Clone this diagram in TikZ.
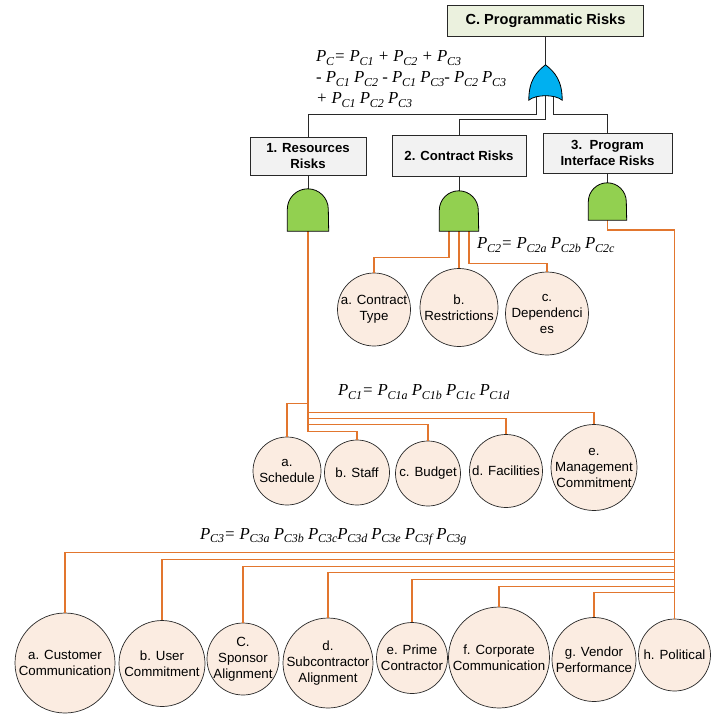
\documentclass[tikz,border=0pt]{standalone}
\usepackage{fontspec}
\setmainfont{Liberation Sans}
\newfontfamily\fmlfont{Liberation Serif}
\definecolor{peach}{RGB}{251,236,225}
\definecolor{orl}{RGB}{226,118,46}
\definecolor{boxg}{RGB}{242,242,242}
\definecolor{titleg}{RGB}{235,241,222}
\definecolor{orblue}{RGB}{0,176,240}
\definecolor{andgreen}{RGB}{146,208,80}
\definecolor{ln}{RGB}{40,40,40}
\newcommand\Pq[1]{P\kern-0.3pt\raisebox{-3.4pt}{\fontsize{12}{12}\selectfont#1}}
\newcommand\andshape[2]{\path[andg] (#1.south west) -- ([yshift=-#2pt]#1.north west) arc[start angle=180,end angle=360,radius=#2] -- (#1.south east) -- cycle;}
\begin{document}
\begin{tikzpicture}[x=1pt,y=-1pt,
  box/.style={draw=ln, line width=0.8pt, fill=boxg, font=\bfseries\fontsize{13.2}{16}\selectfont, align=center, inner sep=0pt},
  titlebox/.style={box, fill=titleg, font=\bfseries\fontsize{14.6}{17}\selectfont},
  circ/.style={circle, draw=ln, line width=0.7pt, fill=peach, inner sep=0pt},
  ctext/.style={align=center, font=\fontsize{13.3}{16}\selectfont, inner sep=0pt},
  oline/.style={draw=orl, line width=1.3pt},
  trunk/.style={draw=orl, line width=1.8pt},
  bline/.style={draw=ln, line width=0.8pt},
  gatebox/.style={draw=none, inner sep=0pt},
  andg/.style={draw=black, line width=0.8pt, fill=andgreen},
  org/.style={draw=black, line width=0.8pt, fill=orblue},
  fml/.style={font=\fmlfont\itshape\fontsize{16.8}{21}\selectfont, inner sep=0pt, anchor=west, align=left}]
\useasboundingbox (0,0) rectangle (720,713);

% boxes
\node[titlebox, minimum width=196pt, minimum height=31pt] (top) at (545.5,20.5) {C. Programmatic Risks};
\node[box, minimum width=116pt, minimum height=38pt] (b1) at (308,156) {1. Resources\\Risks};
\node[box, minimum width=134pt, minimum height=41pt] (b2) at (459,155.5) {2. Contract Risks};
\node[box, minimum width=129pt, minimum height=40pt] (b3) at (607.5,153) {3.\ \ Program\\Interface Risks};

% gates (placeholders)
\node[gatebox, minimum width=33pt, minimum height=35pt] (org) at (545.5,82.5) {};
\node[gatebox, minimum width=41pt, minimum height=42pt] (g1) at (308,210) {};
\node[gatebox, minimum width=39pt, minimum height=40pt] (g2) at (459,211) {};
\node[gatebox, minimum width=38pt, minimum height=37pt] (g3) at (607.5,201.5) {};

% formulas
\node[fml] (fC) at (316,79) {\Pq{C}= \Pq{C1} + \Pq{C2} + \Pq{C3}\\- \Pq{C1} \Pq{C2} - \Pq{C1} \Pq{C3}- \Pq{C2} \Pq{C3}\\+ \Pq{C1} \Pq{C2} \Pq{C3}};
\node[fml] (fC2) at (477,245) {\Pq{C2}= \Pq{C2a} \Pq{C2b} \Pq{C2c}};
\node[fml] (fC1) at (338,392) {\Pq{C1}= \Pq{C1a} \Pq{C1b} \Pq{C1c} \Pq{C1d}};
\node[fml] (fC3) at (200,537) {\Pq{C3}= \Pq{C3a} \Pq{C3b} \Pq{C3c}\Pq{C3d} \Pq{C3e} \Pq{C3f} \Pq{C3g}};

% group 2 circles
\node[circ, minimum size=73pt] (c2a) at (374,309.5) {};
\node[circ, minimum size=78pt] (c2b) at (459,307.5) {};
\node[circ, minimum size=83pt] (c2c) at (547,313.5) {};
\node[ctext] (c2a-t) at (c2a) {a. Contract\\Type};
\node[ctext] (c2b-t) at (c2b) {b.\\Restrictions};
\node[ctext] (c2c-t) at (c2c) {c.\\Dependenci\\es};

% group 1 circles
\node[circ, minimum size=68pt] (c1a) at (287,471) {};
\node[circ, minimum size=65pt] (c1b) at (357,472.5) {};
\node[circ, minimum size=65pt] (c1c) at (428,473.5) {};
\node[circ, minimum size=73pt] (c1d) at (506,471) {};
\node[circ, minimum size=86pt] (c1e) at (594,467.5) {};
\node[ctext] (c1a-t) at (c1a) {a.\\Schedule};
\node[ctext] (c1b-t) at (c1b) {b. Staff};
\node[ctext] (c1c-t) at (c1c) {c. Budget};
\node[ctext] (c1d-t) at (c1d) {d. Facilities};
\node[ctext] (c1e-t) at (c1e) {e.\\Management\\Commitment};

% group 3 circles
\node[circ, minimum size=100pt] (c3a) at (65,663) {};
\node[circ, minimum size=86pt] (c3b) at (162,663.5) {};
\node[circ, minimum size=72pt] (c3c) at (243,659) {};
\node[circ, minimum size=90pt] (c3d) at (328,663) {};
\node[circ, minimum size=71pt] (c3e) at (412,658) {};
\node[circ, minimum size=101pt] (c3f) at (499,657.5) {};
\node[circ, minimum size=84pt] (c3g) at (594,659.5) {};
\node[circ, minimum size=72pt] (c3h) at (674.5,655) {};
\node[ctext] (c3a-t) at (c3a) {a. Customer\\Communication};
\node[ctext] (c3b-t) at (c3b) {b. User\\Commitment};
\node[ctext] (c3c-t) at (c3c) {C.\\Sponsor\\Alignment};
\node[ctext] (c3d-t) at (c3d) {d.\\Subcontractor\\Alignment};
\node[ctext] (c3e-t) at (c3e) {e. Prime\\Contractor};
\node[ctext] (c3f-t) at (c3f) {f. Corporate\\Communication};
\node[ctext] (c3g-t) at (c3g) {g. Vendor\\Performance};
\node[ctext] (c3h-t) at (c3h) {h. Political};

% black connectors
\draw[bline] (top.south) -- (org.north);
\draw[bline] ([xshift=-9.5pt,yshift=5pt]org.south) |- ([yshift=22pt]b1.north) -- (b1.north);
\draw[bline] ([yshift=5pt]org.south) |- ([yshift=15pt]b2.north) -- (b2.north);
\draw[bline] ([xshift=8pt,yshift=5pt]org.south) |- ([yshift=18pt]b3.north) -- (b3.north);
\draw[bline] (b1.south) -- (g1.north);
\draw[bline] (b2.south) -- (g2.north);
\draw[bline] (b3.south) -- (g3.north);

% group 2 connectors
\draw[oline] ([xshift=-10pt]g2.south) -- ++(0,26) -| (c2a.north);
\draw[oline] (g2.south) -- (c2b.north);
\draw[oline] ([xshift=10pt]g2.south) -- ++(0,32) -| (c2c.north);

% group 1 connectors
\draw[trunk] (g1.south) -- ++(0,200);
\draw[oline] (g1.south) -- ++(0,172) -| (c1a.north);
\draw[oline] (g1.south) -- ++(0,200) -| (c1b.north);
\draw[oline] (g1.south) -- ++(0,193) -| (c1c.north);
\draw[oline] (g1.south) -- ++(0,187) -| (c1d.north);
\draw[oline] (g1.south) -- ++(0,181) -| (c1e.north);

% group 3 connectors
\draw[trunk] (g3.south) -- ++(0,9.5) -| (c3h.north);
\coordinate (trk) at ([yshift=389.5pt]c3h.north);
\draw[oline] (trk) ++(0,323.5) -| (c3a.north);
\draw[oline] (trk) ++(0,330.5) -| (c3b.north);
\draw[oline] (trk) ++(0,337.5) -| (c3c.north);
\draw[oline] (trk) ++(0,343.5) -| (c3d.north);
\draw[oline] (trk) ++(0,350.5) -| (c3e.north);
\draw[oline] (trk) ++(0,357.5) -| (c3f.north);
\draw[oline] (trk) ++(0,363.5) -| (c3g.north);

% gate shapes
\path[org] (org.south west) .. controls +(0,-20) and +(-9,7) .. (org.north) .. controls +(9,7) and +(0,-20) .. (org.south east) .. controls +(-7,-6) and +(7,-6) .. (org.south west) -- cycle;
\andshape{g1}{20.5}
\andshape{g2}{19.5}
\andshape{g3}{19}
\end{tikzpicture}
\end{document}
